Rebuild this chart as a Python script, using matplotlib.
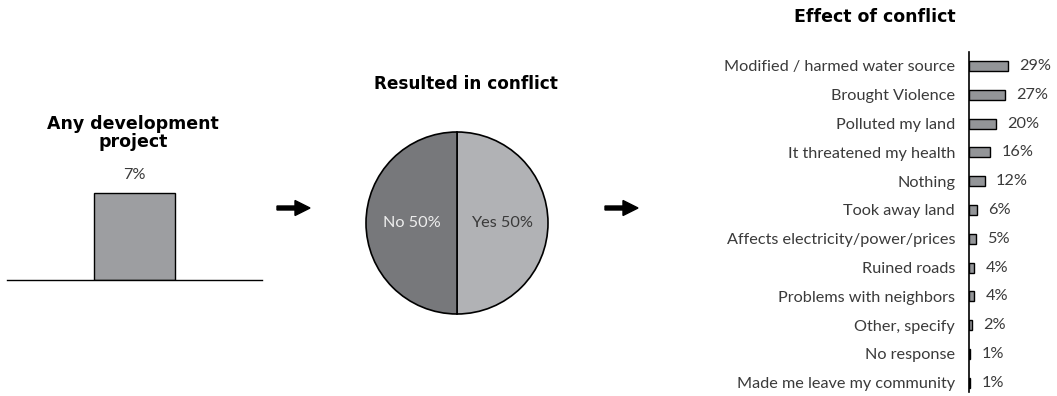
import matplotlib
matplotlib.use("Agg")
import matplotlib.pyplot as plt
from matplotlib.patches import FancyArrow
from matplotlib.transforms import IdentityTransform

# ---- data ----
dev_label = "Any development project"
dev_value = 7

conflict_labels = ["Yes", "No"]
conflict_values = [50, 50]

effect_labels = [
    "Modified / harmed water source",
    "Brought Violence",
    "Polluted my land",
    "It threatened my health",
    "Nothing",
    "Took away land",
    "Affects electricity/power/prices",
    "Ruined roads",
    "Problems with neighbors",
    "Other, specify",
    "No response",
    "Made me leave my community",
]
effect_values = [29, 27, 20, 16, 12, 6, 5, 4, 4, 2, 1, 1]

# ---- styling ----
W, H = 1057, 396
DPI = 100
TEXT = "#3a3a3a"
FS = 11.7
REG = dict(family=["Lato", "DejaVu Sans"], weight="normal", color=TEXT)
BOLD = dict(family=["DejaVu Sans"], weight="bold", color="black")

fig = plt.figure(figsize=(W / DPI, H / DPI), dpi=DPI)


def px_axes(left, top, right, bottom):
    """Create axes from pixel box (origin top-left)."""
    return fig.add_axes([left / W, 1 - bottom / H, (right - left) / W, (bottom - top) / H])


# ---- left panel: single bar ----
ax1 = px_axes(7, 150, 262, 280)
ax1.bar([0], [dev_value], width=1.0, color="#9d9ea1", edgecolor="black", linewidth=1.0)
ax1.set_xlim(-1.59, 1.59)
ax1.set_ylim(0, dev_value * 130 / 87)
for s in ["top", "left", "right"]:
    ax1.spines[s].set_visible(False)
ax1.spines["bottom"].set_linewidth(1.0)
ax1.set_xticks([])
ax1.set_yticks([])
ax1.annotate(f"{dev_value}%", (0, dev_value), xytext=(0, 8), textcoords="offset points",
             ha="center", va="bottom", fontsize=FS, **REG)
fig.text(133 / W, 1 - 133 / H, "Any development\nproject", ha="center", va="center",
         fontsize=12.5, linespacing=1.0, **BOLD)

# ---- arrows ----
for x0, x1 in [(277, 310), (605, 638)]:
    y = H - 208
    fig.add_artist(FancyArrow(x0, y, x1 - x0, 0, width=4, head_width=15, head_length=15,
                              length_includes_head=True, color="black",
                              transform=IdentityTransform()))

# ---- middle panel: pie ----
ax2 = px_axes(357, 123, 557, 323)
wedges, texts = ax2.pie(conflict_values, startangle=90, counterclock=False,
                        colors=["#b1b2b5", "#77787b"], radius=0.91,
                        wedgeprops=dict(edgecolor="black", linewidth=1.2),
                        labels=[f"{l} {v}%" for l, v in zip(conflict_labels, conflict_values)],
                        labeldistance=0.5)
for t, c in zip(texts, [TEXT, "#eeeeee"]):
    t.set_fontsize(FS)
    t.set_family(["Lato", "DejaVu Sans"])
    t.set_weight("normal")
    t.set_color(c)
    t.set_ha("center")
    t.set_va("center")
ax2.set_xlim(-1, 1)
ax2.set_ylim(-1, 1)
ax2.set_aspect("equal")
fig.text(466 / W, 1 - 84 / H, "Resulted in conflict", ha="center", va="center",
         fontsize=12.2, **BOLD)

# ---- right panel: horizontal bars ----
row0, step = 66, 28.8
top_px, bot_px = 52, 392
ax3 = px_axes(969, top_px, 1057, bot_px)
ypos = list(range(len(effect_values)))
ax3.barh(ypos, effect_values, height=10 / step, color="#939598", edgecolor="black",
         linewidth=1.0, align="center")
ax3.set_ylim((bot_px - row0) / step, (top_px - row0) / step)
ax3.set_xlim(0, 88 / 1.33)
for s in ["top", "bottom", "right"]:
    ax3.spines[s].set_visible(False)
ax3.spines["left"].set_linewidth(1.2)
ax3.set_xticks([])
ax3.set_yticks(ypos)
ax3.set_yticklabels(effect_labels, fontsize=FS, **REG)
ax3.tick_params(axis="y", length=0, pad=10)
for y, v in zip(ypos, effect_values):
    ax3.annotate(f"{v}%", (v, y), xytext=(8, 0), textcoords="offset points",
                 ha="left", va="center", fontsize=FS, **REG)
fig.text(875 / W, 1 - 17 / H, "Effect of conflict", ha="center", va="center",
         fontsize=12.5, **BOLD)

fig.savefig("out.png", dpi=DPI)
